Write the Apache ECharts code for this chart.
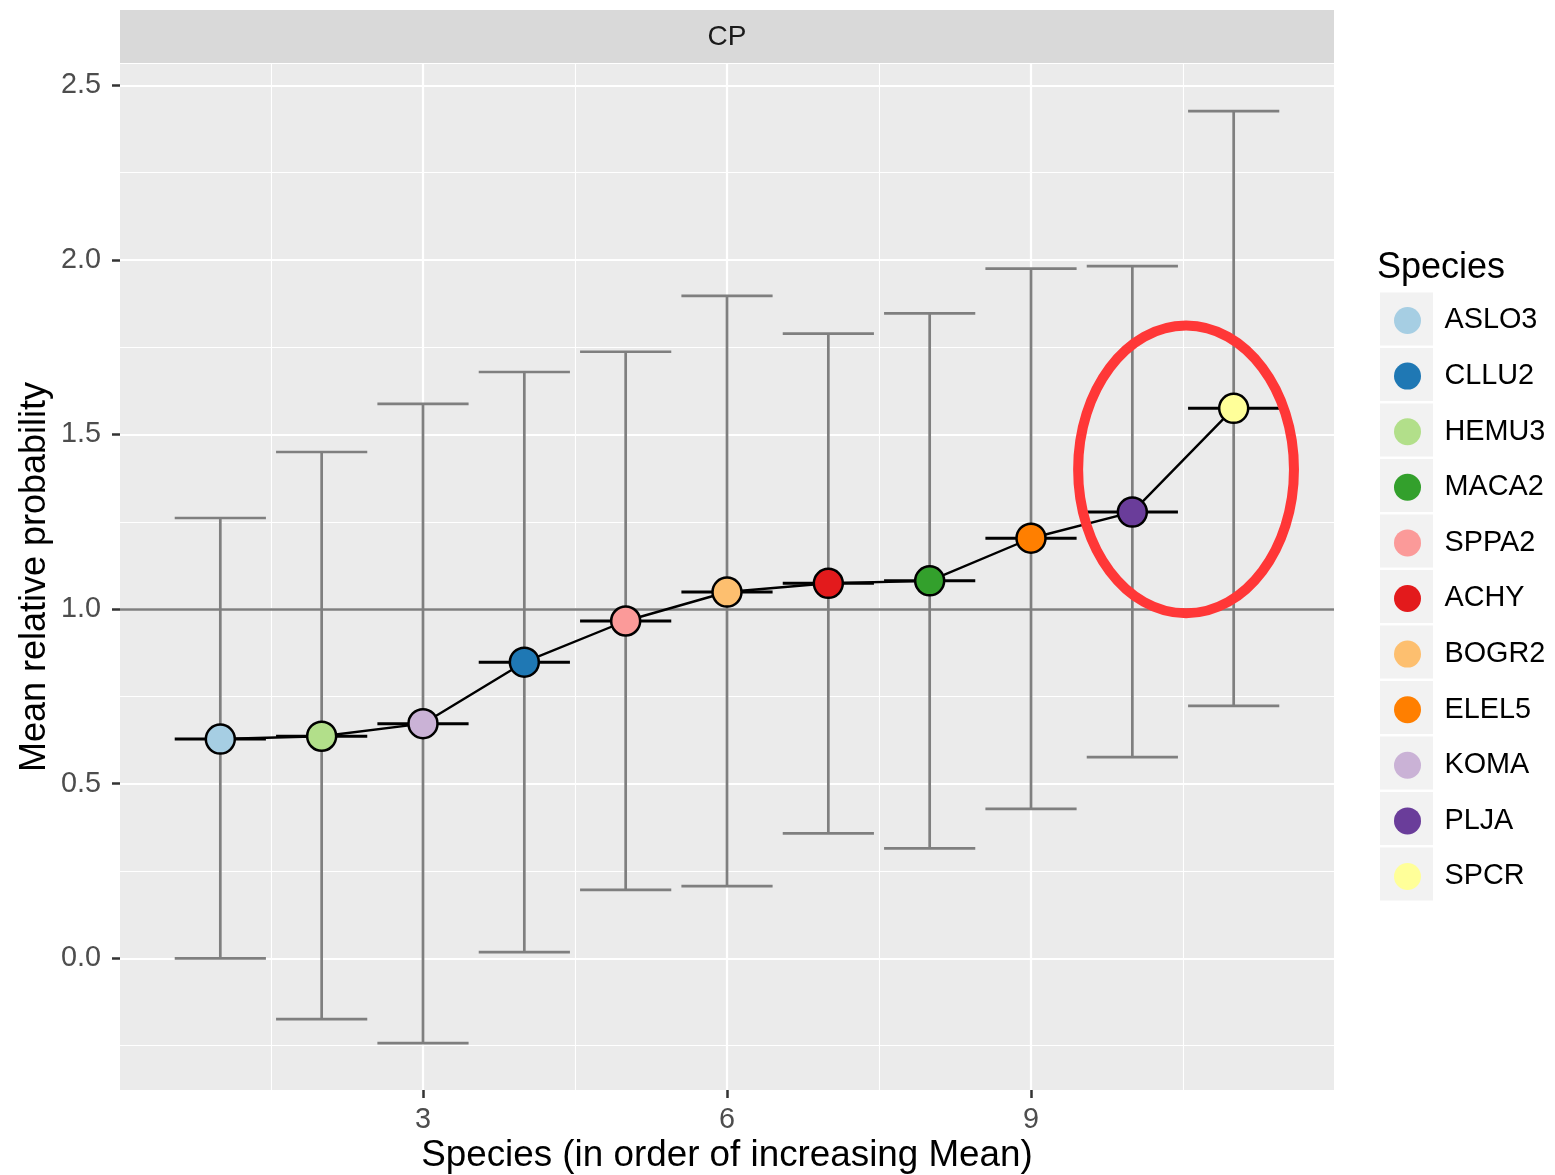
<!DOCTYPE html>
<html>
<head>
<meta charset="utf-8">
<script src="https://cdn.jsdelivr.net/npm/echarts@6/dist/echarts.min.js"></script>
<style>
  html, body { margin: 0; padding: 0; background: #fff; }
  #chart { width: 1555px; height: 1175px; }
</style>
</head>
<body>
<div id="chart"></div>
<script>
// ---- Data (x order = increasing mean) ----
const species = ['ASLO3', 'HEMU3', 'KOMA', 'CLLU2', 'SPPA2', 'BOGR2', 'ACHY', 'MACA2', 'ELEL5', 'PLJA', 'SPCR'];
const xPos    = [1, 2, 3, 4, 5, 6, 7, 8, 9, 10, 11];
const means   = [0.628, 0.636, 0.672, 0.848, 0.966, 1.049, 1.074, 1.081, 1.203, 1.278, 1.575];
const lowers  = [0.000, -0.174, -0.243, 0.018, 0.196, 0.207, 0.358, 0.315, 0.428, 0.576, 0.723];
const uppers  = [1.261, 1.450, 1.588, 1.679, 1.737, 1.897, 1.789, 1.847, 1.975, 1.982, 2.426];

// Legend order and palette
const legendOrder = ['ASLO3', 'CLLU2', 'HEMU3', 'MACA2', 'SPPA2', 'ACHY', 'BOGR2', 'ELEL5', 'KOMA', 'PLJA', 'SPCR'];
const legendColors = ['#A6CEE3', '#1F78B4', '#B2DF8A', '#33A02C', '#FB9A99', '#E31A1C', '#FDBF6F', '#FF7F00', '#CAB2D6', '#6A3D9A', '#FFFF99'];

// Tick values
const xTicks = [3, 6, 9];
const xMinor = [1.5, 4.5, 7.5, 10.5];
const yTicks = [0, 0.5, 1.0, 1.5, 2.0, 2.5];
const yMinor = [-0.25, 0.25, 0.75, 1.25, 1.75, 2.25];
const refLine = 1.0;

// Annotation ellipse (data units): center x, center y, radius x, radius y
const highlight = [10.53, 1.40, 1.065, 0.412];

const FONT = '"Liberation Sans", Arial, Helvetica, sans-serif';
const colorOf = {};
legendOrder.forEach((s, i) => { colorOf[s] = legendColors[i]; });

const chart = echarts.init(document.getElementById('chart'), null, { renderer: 'canvas' });

const gridLeft = 120, gridRight = 221, gridTop = 64, gridBottom = 85;

const scatterSeries = species.map((s, i) => ({
  name: s,
  type: 'scatter',
  data: [[xPos[i], means[i]]],
  symbol: 'circle',
  symbolSize: 29,
  itemStyle: { color: colorOf[s], borderColor: '#000', borderWidth: 2.5, opacity: 1 },
  z: 6,
  silent: true
}));

// Legend key backgrounds
const legendBoxes = legendOrder.map((s, i) => ({
  type: 'rect',
  left: 1380,
  top: 292.5 + i * 55.5,
  shape: { width: 53, height: 53 },
  style: { fill: '#F2F2F2' },
  z: 0
}));

const option = {
  animation: false,
  backgroundColor: '#FFFFFF',
  textStyle: { fontFamily: FONT },
  title: {
    text: 'Species',
    left: 1377,
    top: 250,
    padding: 0,
    textStyle: { fontSize: 36, fontWeight: 'normal', color: '#000', fontFamily: FONT }
  },
  legend: {
    orient: 'vertical',
    left: 1394,
    top: 306,
    padding: 0,
    itemWidth: 64,
    itemHeight: 27,
    itemGap: 26.6,
    icon: 'circle',
    selectedMode: false,
    itemStyle: { borderWidth: 0 },
    textStyle: { fontSize: 28.8, color: '#000', fontFamily: FONT },
    data: legendOrder
  },
  graphic: [
    {
      type: 'rect',
      left: gridLeft,
      top: 10,
      shape: { width: 1555 - gridLeft - gridRight, height: 53 },
      style: { fill: '#D9D9D9' },
      z: 0
    },
    {
      type: 'text',
      x: gridLeft + (1555 - gridLeft - gridRight) / 2,
      y: 37,
      style: { text: 'CP', fontSize: 28, fill: '#1A1A1A', fontFamily: FONT, textAlign: 'center', textVerticalAlign: 'middle' },
      z: 1
    }
  ].concat(legendBoxes),
  grid: {
    left: gridLeft, right: gridRight, top: gridTop, bottom: gridBottom,
    show: true, backgroundColor: '#EBEBEB', borderWidth: 0,
    containLabel: false,
    outerBoundsMode: 'none'
  },
  xAxis: {
    type: 'value',
    min: 0.01,
    max: 11.99,
    name: 'Species (in order of increasing Mean)',
    nameLocation: 'middle',
    nameGap: 47,
    nameMoveOverlap: false,
    nameTextStyle: { fontSize: 36.8, color: '#000', fontFamily: FONT },
    axisLine: { show: false, onZero: false },
    axisTick: { show: true, customValues: xTicks, length: 8, lineStyle: { color: '#333333', width: 2.5 } },
    axisLabel: { customValues: xTicks, fontSize: 28.8, color: '#4D4D4D', margin: 16, fontFamily: FONT,
                 formatter: v => String(v) },
    splitLine: { show: false },
    minorSplitLine: { show: false }
  },
  yAxis: {
    type: 'value',
    min: -0.377,
    max: 2.561,
    name: 'Mean relative probability',
    nameLocation: 'middle',
    nameGap: 67,
    nameMoveOverlap: false,
    nameTextStyle: { fontSize: 36, color: '#000', fontFamily: FONT },
    axisLine: { show: false, onZero: false },
    axisTick: { show: true, customValues: yTicks, length: 8, lineStyle: { color: '#333333', width: 2.5 } },
    axisLabel: { customValues: yTicks, fontSize: 28.8, color: '#4D4D4D', margin: 19, fontFamily: FONT,
                 formatter: v => Number(v).toFixed(1) },
    splitLine: { show: false },
    minorSplitLine: { show: false }
  },
  series: [
    // Panel grid lines (white)
    {
      name: '_grid',
      type: 'line',
      data: [],
      z: 1,
      silent: true,
      markLine: {
        z: 1,
        silent: true,
        symbol: 'none',
        label: { show: false },
        animation: false,
        data: []
          .concat(yMinor.map(v => ({ yAxis: v, lineStyle: { color: '#FFFFFF', width: 1.1, type: 'solid' } })))
          .concat(xMinor.map(v => ({ xAxis: v, lineStyle: { color: '#FFFFFF', width: 1.1, type: 'solid' } })))
          .concat(yTicks.map(v => ({ yAxis: v, lineStyle: { color: '#FFFFFF', width: 2.2, type: 'solid' } })))
          .concat(xTicks.map(v => ({ xAxis: v, lineStyle: { color: '#FFFFFF', width: 2.2, type: 'solid' } })))
      }
    },
    // Error bars
    {
      name: '_err',
      type: 'custom',
      z: 2,
      silent: true,
      encode: { x: 0, y: [1, 2] },
      data: xPos.map((x, i) => [x, lowers[i], uppers[i]]),
      renderItem: function (params, api) {
        const x = api.value(0);
        const lo = api.coord([x, api.value(1)]);
        const hi = api.coord([x, api.value(2)]);
        const hw = api.size([0.45, 0])[0];
        const st = { stroke: '#7F7F7F', lineWidth: 2.7 };
        return {
          type: 'group',
          children: [
            { type: 'line', shape: { x1: lo[0], y1: lo[1], x2: hi[0], y2: hi[1] }, style: st },
            { type: 'line', shape: { x1: lo[0] - hw, y1: lo[1], x2: lo[0] + hw, y2: lo[1] }, style: st },
            { type: 'line', shape: { x1: hi[0] - hw, y1: hi[1], x2: hi[0] + hw, y2: hi[1] }, style: st }
          ]
        };
      }
    },
    // Reference line at 1
    {
      name: '_ref',
      type: 'line',
      data: [],
      z: 3,
      silent: true,
      markLine: {
        z: 3,
        silent: true,
        symbol: 'none',
        label: { show: false },
        data: [{ yAxis: refLine, lineStyle: { color: '#7F7F7F', width: 2.6, type: 'solid' } }]
      }
    },
    // Mean crossbars
    {
      name: '_mean',
      type: 'custom',
      z: 4,
      silent: true,
      encode: { x: 0, y: 1 },
      data: xPos.map((x, i) => [x, means[i]]),
      renderItem: function (params, api) {
        const p = api.coord([api.value(0), api.value(1)]);
        const hw = api.size([0.45, 0])[0];
        return {
          type: 'line',
          shape: { x1: p[0] - hw, y1: p[1], x2: p[0] + hw, y2: p[1] },
          style: { stroke: '#000', lineWidth: 3 }
        };
      }
    },
    // Connecting line
    {
      name: '_path',
      type: 'line',
      data: xPos.map((x, i) => [x, means[i]]),
      symbol: 'none',
      lineStyle: { color: '#000', width: 2.4 },
      z: 5,
      silent: true
    }
  ].concat(scatterSeries).concat([
    // Highlight ellipse annotation
    {
      name: '_highlight',
      type: 'custom',
      z: 7,
      silent: true,
      clip: false,
      encode: { x: 0, y: 1 },
      data: [highlight],
      renderItem: function (params, api) {
        const c = api.coord([api.value(0), api.value(1)]);
        const r = api.size([api.value(2), api.value(3)]);
        return {
          type: 'ellipse',
          shape: { cx: c[0], cy: c[1], rx: r[0], ry: r[1] },
          style: { fill: 'none', stroke: '#FF3737', lineWidth: 10 }
        };
      }
    }
  ])
};

chart.setOption(option);
</script>
</body>
</html>
